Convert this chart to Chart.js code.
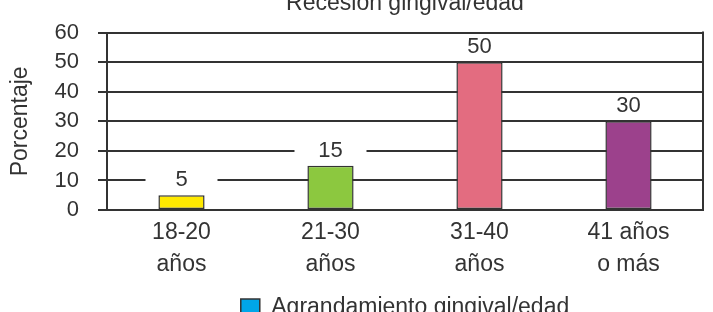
<!DOCTYPE html>
<html>
<head>
<meta charset="utf-8">
<script src="https://cdn.jsdelivr.net/npm/chart.js@4"></script>
<style>
  html, body { margin: 0; padding: 0; background: #fff; }
  #wrap { width: 713px; height: 312px; overflow: hidden; position: relative; }
  #box { position: absolute; left: 0; top: -14px; width: 713px; height: 343px; }
</style>
</head>
<body>
<div id="wrap"><div id="box"><canvas id="chart"></canvas></div></div>
<script>
var categories = [["18-20", "años"], ["21-30", "años"], ["31-40", "años"], ["41 años", "o más"]];
var values = [5, 15, 50, 30];
var barColors = ["#ffe900", "#8cc83f", "#e36c80", "#9c418c"];
var yTicks = [0, 10, 20, 30, 40, 50, 60];
var chartTitle = "Recesión gingival/edad";
var yTitle = "Porcentaje";
var legendText = "Agrandamiento gingival/edad";

var fontFam = "'Liberation Sans', Arial, Helvetica, sans-serif";
var ink = "#333";

// value labels sit on white boxes that cut the grid lines
var valueLabels = {
  id: "valueLabels",
  afterDatasetsDraw: function(chart) {
    var ctx = chart.ctx;
    var meta = chart.getDatasetMeta(0);
    ctx.save();
    ctx.font = "22px " + fontFam;
    ctx.textAlign = "center";
    ctx.textBaseline = "middle";
    meta.data.forEach(function(bar, i) {
      var cy = bar.y - 16;
      ctx.fillStyle = "#fff";
      ctx.fillRect(bar.x - 36, cy - 11, 72, 22);
      ctx.fillStyle = ink;
      ctx.fillText(String(values[i]), bar.x, cy + 1);
    });
    ctx.restore();
  }
};

var rightBorder = {
  id: "rightBorder",
  beforeDatasetsDraw: function(chart) {
    var a = chart.chartArea, ctx = chart.ctx;
    ctx.save();
    ctx.strokeStyle = ink;
    ctx.lineWidth = 2;
    ctx.beginPath();
    ctx.moveTo(a.right, a.top - 1);
    ctx.lineTo(a.right, a.bottom + 1);
    ctx.stroke();
    ctx.restore();
  }
};

new Chart(document.getElementById("chart"), {
  type: "bar",
  data: {
    labels: categories,
    datasets: [{
      label: legendText,
      data: values,
      backgroundColor: barColors,
      borderColor: ink,
      borderWidth: 1.5,
      borderSkipped: false,
      categoryPercentage: 1,
      barPercentage: 0.31
    }]
  },
  options: {
    responsive: true,
    maintainAspectRatio: false,
    animation: false,
    layout: { padding: { left: 7, right: 10, top: 0, bottom: 0 } },
    plugins: {
      title: {
        display: true,
        fullSize: false,
        text: chartTitle,
        color: ink,
        font: { family: fontFam, size: 23, weight: "normal" },
        padding: { top: 4, bottom: 15 }
      },
      legend: {
        display: true,
        fullSize: false,
        position: "bottom",
        labels: {
          color: ink,
          font: { family: fontFam, size: 23 },
          boxWidth: 19,
          boxHeight: 17,
          padding: 8,
          generateLabels: function() {
            return [{ text: legendText, fillStyle: "#00a6e8", strokeStyle: ink, lineWidth: 1.5, fontColor: ink }];
          }
        }
      },
      tooltip: { enabled: false }
    },
    scales: {
      x: {
        grid: { display: false, drawTicks: false },
        border: { display: true, color: ink, width: 2 },
        ticks: {
          color: ink,
          font: { family: fontFam, size: 23, lineHeight: 1.39 },
          padding: 7,
          maxRotation: 0,
          autoSkip: false
        }
      },
      y: {
        min: 0,
        max: 60,
        afterBuildTicks: function(axis) {
          axis.ticks = yTicks.map(function(v) { return { value: v }; });
        },
        afterFit: function(axis) { axis.width = 100; },
        grid: { color: ink, lineWidth: 2, tickLength: 9, drawTicks: true },
        border: { display: true, color: ink, width: 2 },
        ticks: {
          color: ink,
          font: { family: fontFam, size: 22 },
          padding: 19,
          autoSkip: false
        },
        title: {
          display: true,
          text: yTitle,
          color: ink,
          font: { family: fontFam, size: 23 },
          padding: { top: 0, bottom: 0 }
        }
      }
    }
  },
  plugins: [valueLabels, rightBorder]
});
</script>
</body>
</html>
